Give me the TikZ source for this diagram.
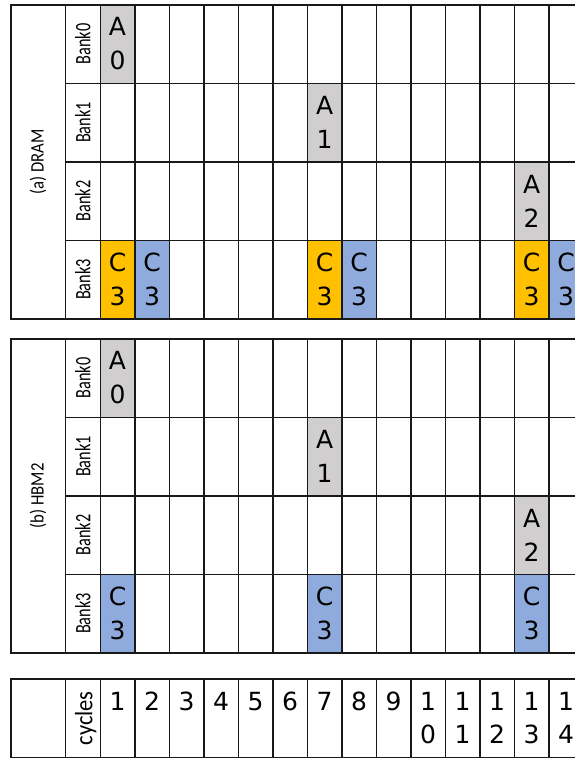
\documentclass[tikz,border=0pt]{standalone}
\usepackage{fontspec}
\setmainfont{DejaVu Sans}
\newfontfamily\labelfont{Carlito}
\usepackage{xcolor}
\usetikzlibrary{positioning}

\definecolor{actgray}{HTML}{D0CECE}
\definecolor{colorange}{HTML}{FFC000}
\definecolor{colblue}{HTML}{8FAADC}

\begin{document}
\begin{tikzpicture}[x=1pt, y=-1pt,
  cell/.style={draw=black!90, line width=1.6pt, minimum width=34.5pt, minimum height=78.5pt,
    inner sep=0pt, anchor=north west, align=center, font=\fontsize{25}{34}\selectfont},
  bankcell/.style={cell, minimum width=35pt},
  namecell/.style={cell, minimum width=54.5pt, minimum height=314pt},
  banklabel/.style={rotate=90, font=\labelfont\fontsize{22}{24}\selectfont},
  numlabel/.style={inner sep=0pt, align=center, font=\fontsize{25}{33}\selectfont}]
  \clip (0,0) rectangle (575,758);
  \fill[white] (0,0) rectangle (575,758);

  % (a) DRAM and (b) HBM2 tables
  \foreach \tbl/\ytop/\tname in {a/4/{(a) DRAM}, b/338/{(b) HBM2}} {
    \node[namecell] (\tbl-name) at (10,\ytop) {};
    \node[rotate=90, font=\labelfont\fontsize{19}{20}\selectfont] at (\tbl-name.center) {\scalebox{0.88}[1]{\tname}};
    \foreach \r in {0,...,3} {
      \node[bankcell] (\tbl-bank\r) at (64.5,{\ytop+78.5*\r}) {};
      \node[banklabel] at (\tbl-bank\r.center) {\scalebox{0.74}[1]{Bank\r}};
      \foreach \c in {1,...,14}
        \node[cell] (\tbl-\r-\c) at ({99.5+34.5*(\c-1)},{\ytop+78.5*\r}) {};
    }
  }

  % activates
  \foreach \tbl/\ytop in {a/4, b/338} {
    \node[cell, fill=actgray] (\tbl-A0) at (99.5,\ytop) {A\\0};
    \node[cell, fill=actgray] (\tbl-A1) at (306.5,{\ytop+78.5}) {A\\1};
    \node[cell, fill=actgray] (\tbl-A2) at (513.5,{\ytop+157}) {A\\2};
  }

  % column commands
  \foreach \c in {1,7,13} {
    \node[cell, fill=colorange] (a-C3-\c) at ({99.5+34.5*(\c-1)},239.5) {C\\3};
    \node[cell, fill=colblue] (a-C3b-\c) at ({99.5+34.5*\c},239.5) {C\\3};
    \node[cell, fill=colblue] (b-C3-\c) at ({99.5+34.5*(\c-1)},573.5) {C\\3};
  }

  % cycles row
  \node[namecell, minimum height=79pt] (cyc-name) at (10,678) {};
  \node[bankcell, minimum height=79pt] (cyc-label) at (64.5,678) {};
  \node[rotate=90, font=\labelfont\fontsize{25}{28}\selectfont] at ([xshift=3pt]cyc-label.center) {\scalebox{0.9}[1]{cycles}};
  \foreach \c/\txt in {1/1, 2/2, 3/3, 4/4, 5/5, 6/6, 7/7, 8/8, 9/9,
                       10/1\\0, 11/1\\1, 12/1\\2, 13/1\\3, 14/1\\4} {
    \node[cell, minimum height=79pt] (cyc-\c) at ({99.5+34.5*(\c-1)},678) {};
    \node[numlabel, below=14pt of cyc-\c.north] {\txt};
  }
\end{tikzpicture}
\end{document}
